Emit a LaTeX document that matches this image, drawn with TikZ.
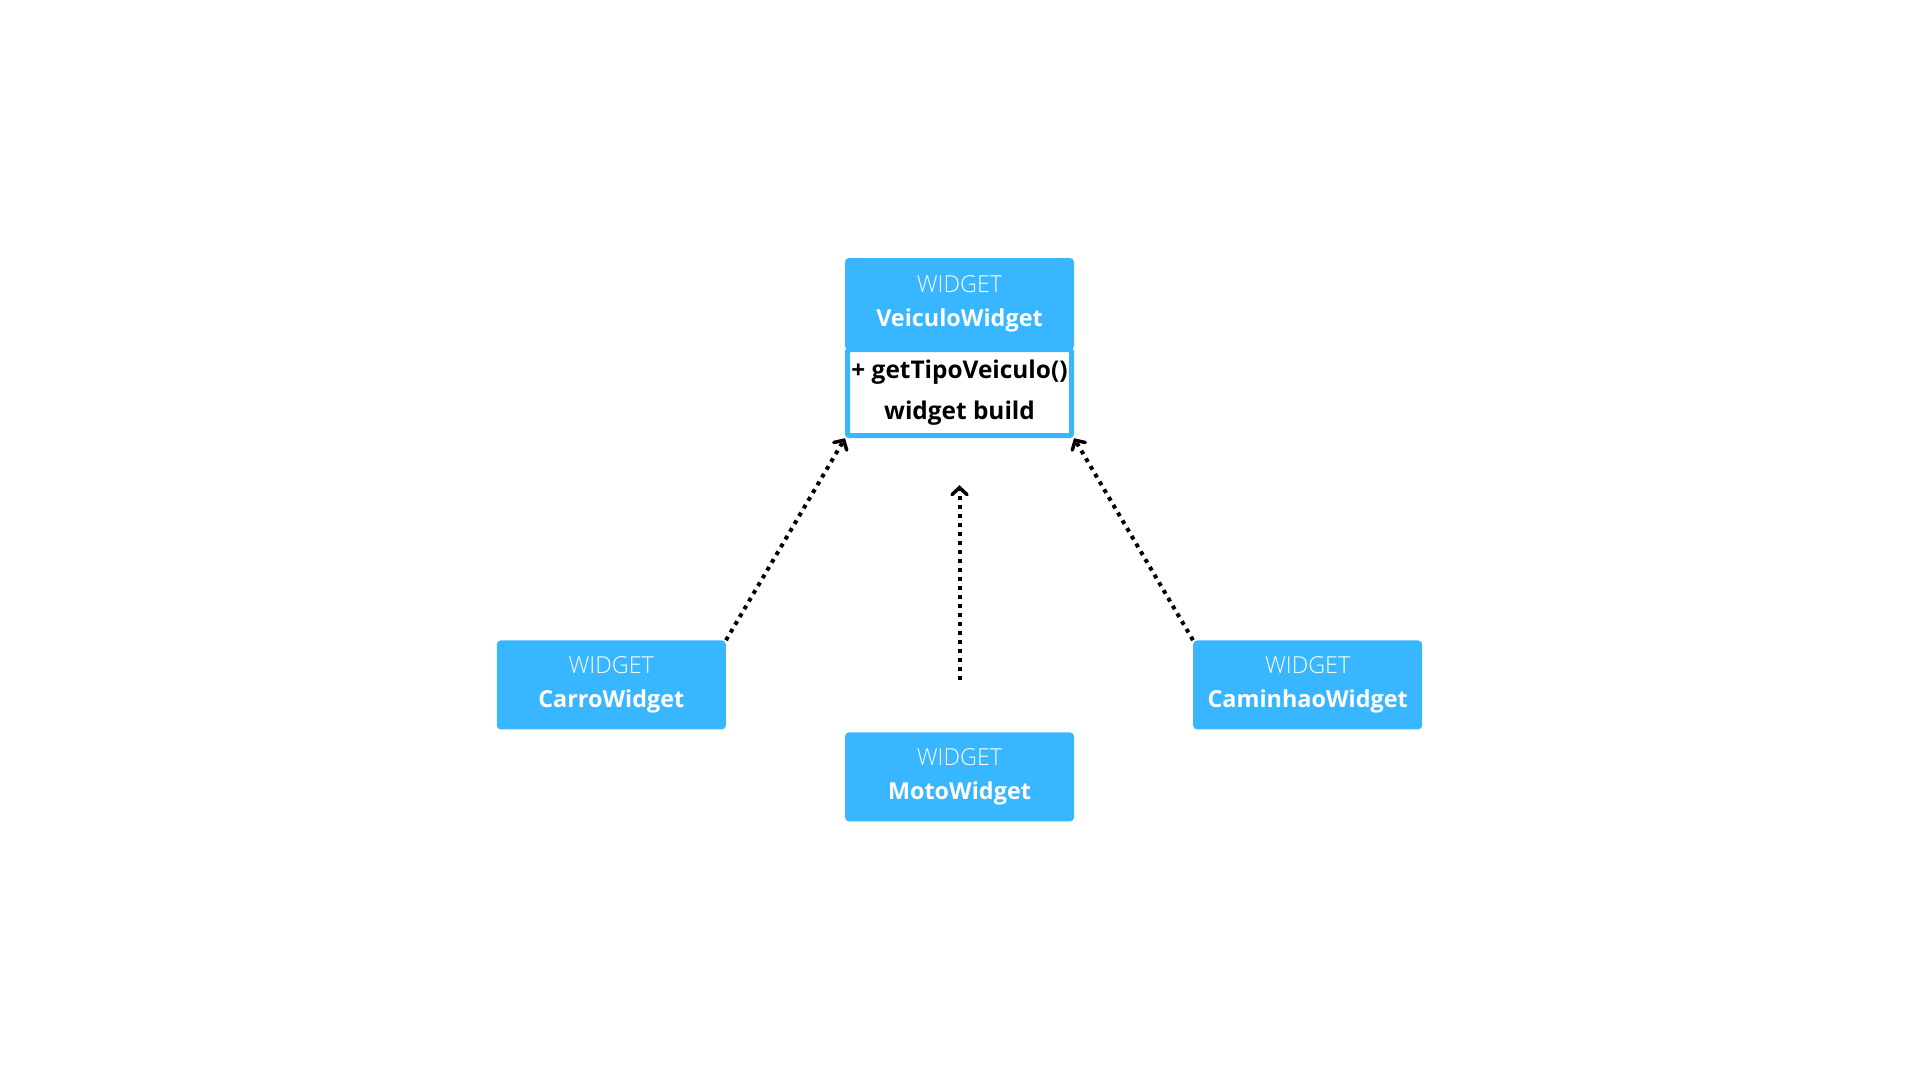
\documentclass[tikz,border=0pt]{standalone}
\usepackage{fontspec}
\setmainfont{Open Sans}
\newfontfamily\lightfont{Open Sans Light}
\usetikzlibrary{positioning}
\usetikzlibrary{arrows.meta}
\definecolor{widgetblue}{RGB}{56,182,255}

\begin{document}
\begin{tikzpicture}[
  node distance=2cm,
  every node/.style={font=\fontsize{23.4}{34}\selectfont},
  widget/.style={
    fill=widgetblue, rounded corners=4pt, text=white,
    minimum width=229pt, minimum height=89pt,
    align=center, inner sep=0pt
  },
  members/.style={
    draw=widgetblue, line width=5pt, fill=white, rounded corners=2pt,
    minimum width=224pt, minimum height=86pt,
    align=center, inner sep=0pt,
    font=\fontsize{24.4}{41}\selectfont\bfseries
  },
  realize/.style={
    line width=4pt, dash pattern=on 4pt off 5pt,
    -{Straight Barb[length=7pt,width=15pt,line width=3.5pt,line cap=round]}
  }
]
\useasboundingbox (0,0) rectangle (1920pt,-1080pt);

% Nodes
\node[widget, minimum height=92pt] (head) at (959.5pt,-304pt) {{\lightfont WIDGET}\\\textbf{VeiculoWidget}};
\node[members, below=-3pt of head] (body) {+ getTipoVeiculo()\\widget build};
\node[widget, below=294pt of body] (moto) {{\lightfont WIDGET}\\\textbf{MotoWidget}};
\node[widget, below left=202pt and 119pt of body.south west] (carro) {{\lightfont WIDGET}\\\textbf{CarroWidget}};
\node[widget, below right=202pt and 119pt of body.south east] (caminhao) {{\lightfont WIDGET}\\\textbf{CaminhaoWidget}};

% Arrows
\draw[realize] (carro.north east) -- (body.south west);
\draw[realize, shorten <=52pt, shorten >=47pt] (moto.north) -- (body.south);
\draw[realize] (caminhao.north west) -- (body.south east);
\end{tikzpicture}
\end{document}
